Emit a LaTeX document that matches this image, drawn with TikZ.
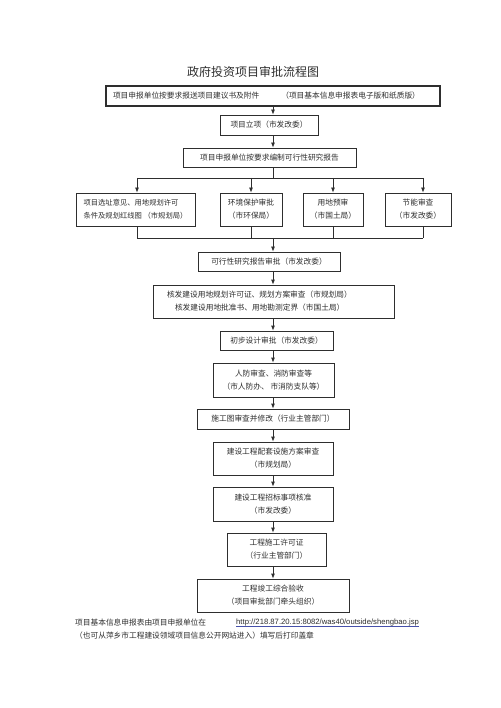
\documentclass[tikz,border=0pt]{standalone}
\usepackage{fontspec}
\setmainfont{Noto Sans CJK SC}
\newfontfamily\urlfont{Liberation Sans}
\usetikzlibrary{arrows.meta,calc}
\definecolor{ink}{gray}{0.18}
\definecolor{linkblue}{RGB}{70,80,170}
\begin{document}
\begin{tikzpicture}[x=1pt,y=-1pt,
  box/.style={draw=ink, line width=0.8pt, inner xsep=2pt, inner ysep=1pt, align=center, text=ink, font=\fontsize{7.7}{13}\selectfont},
  ln/.style={draw=ink, line width=0.8pt},
  arr/.style={ln, -{Latex[length=5pt,width=4pt]}},
  txt/.style={text=ink, inner sep=0pt, font=\fontsize{7.7}{13}\selectfont}
]
\fill[white] (0,0) rectangle (500,708);
\useasboundingbox (0,0) rectangle (500,708);
\coordinate (spine) at (273,0);

\node[text=ink, font=\fontsize{12}{14}\selectfont] (title) at (253,72) {政府投资项目审批流程图};

\node[box, line width=1.2pt, inner xsep=7pt, text width=320pt, align=left, minimum height=20pt] (b1) at (273,96)
  {项目申报单位按要求报送项目建议书及附件\hspace{22pt}（项目基本信息申报表电子版和纸质版）};
\node[box, minimum width=98pt, minimum height=20pt] (b2) at (269,125) {项目立项（市发改委）};
\node[box, minimum width=173pt, minimum height=19pt] (b3) at (269.5,157.5) {项目申报单位按要求编制可行性研究报告};

\node[box, inner xsep=2pt, align=left, minimum width=119pt, minimum height=33pt, font=\fontsize{7.3}{13}\selectfont] (bA) at (135.5,209.5)
  {项目选址意见、用地规划许可\\条件及规划红线图 （市规划局）};
\node[box, minimum width=62pt, minimum height=33pt] (bB) at (251,209.5) {环境保护审批\\（市环保局）};
\node[box, minimum width=60pt, minimum height=33pt] (bC) at (333,209.5) {用地预审\\（市国土局）};
\node[box, minimum width=66pt, minimum height=33pt] (bD) at (418,209.5) {节能审查\\（市发改委）};

\node[box, minimum width=142pt, minimum height=19pt] (bE) at (269,261.5) {可行性研究报告审批（市发改委）};
\node[box, inner xsep=14pt, text width=213pt, align=left, minimum height=33pt] (bF) at (273.5,301.5)
  {核发建设用地规划许可证、规划方案审查（市规划局）\\\hspace*{8pt}核发建设用地批准书、用地勘测定界（市国土局）};
\node[box, minimum width=113pt, minimum height=19pt] (bG) at (276.5,340.5) {初步设计审批（市发改委）};
\node[box, minimum width=121pt, minimum height=34pt] (bH) at (273.5,380) {人防审查、消防审查等\\（市人防办、 市消防支队等）};
\node[box, minimum width=152pt, minimum height=20pt] (bI) at (273,419) {施工图审查并修改（行业主管部门）};
\node[box, minimum width=120pt, minimum height=33pt] (bJ) at (273,458.5) {建设工程配套设施方案审查\\（市规划局）};
\node[box, minimum width=120pt, minimum height=34pt] (bK) at (273,504) {建设工程招标事项核准\\（市发改委）};
\node[box, minimum width=99pt, minimum height=33pt] (bL) at (276.5,549.5) {工程施工许可证\\（行业主管部门）};
\node[box, minimum width=152pt, minimum height=33pt] (bM) at (273,595.5) {工程竣工综合验收\\（项目审批部门牵头组织）};

% connectors
\draw[arr] (b1.south -| spine) -- (b2.north -| spine);
\draw[arr] (b2.south -| spine) -- (b3.north -| spine);

\coordinate (topL) at (137,178);
\coordinate (topR) at (423,178);
\coordinate (botL) at (137,238);
\coordinate (botR) at (423,238);
\draw[ln] (b3.south -| spine) -- (spine |- topL);
\draw[ln] (topL) -- (topR);
\draw[arr] (topL) -- (bA.north -| topL);
\draw[arr] (bB.north |- topL) -- (bB.north);
\draw[arr] (bC.north |- topL) -- (bC.north);
\draw[arr] (topR) -- (bD.north -| topR);

\draw[ln] (bA.south -| botL) -- (botL);
\draw[ln] (bB.south) -- (bB.south |- botL);
\draw[ln] (bC.south) -- (bC.south |- botL);
\draw[ln] (bD.south -| botR) -- (botR);
\draw[ln] (botL) -- (botR);
\draw[arr] (spine |- botL) -- (bE.north -| spine);

\draw[arr] (bE.south -| spine) -- (bF.north -| spine);
\draw[arr] (bF.south -| spine) -- (bG.north -| spine);
\draw[arr] (bG.south -| spine) -- (bH.north -| spine);
\draw[arr] (bH.south -| spine) -- (bI.north -| spine);
\draw[arr] (bI.south -| spine) -- (bJ.north -| spine);
\draw[arr] (bJ.south -| spine) -- (bK.north -| spine);
\draw[arr] (bK.south -| spine) -- (bL.north -| spine);
\draw[arr] (bL.south -| spine) -- (bM.north -| spine);

% footer
\node[txt, anchor=west] (f1) at (75,623) {项目基本信息申报表由项目申报单位在};
\node[txt, anchor=west, font=\urlfont\fontsize{7.7}{9}\selectfont] (url) at (236,623) {http://218.87.20.15:8082/was40/outside/shengbao.jsp};
\draw[linkblue, line width=0.6pt] ([yshift=-1.3pt]url.base west) -- ([yshift=-1.3pt]url.base east);
\node[txt, anchor=west] (f2) at (75,636) {（也可从萍乡市工程建设领域项目信息公开网站进入）填写后打印盖章};
\end{tikzpicture}
\end{document}
